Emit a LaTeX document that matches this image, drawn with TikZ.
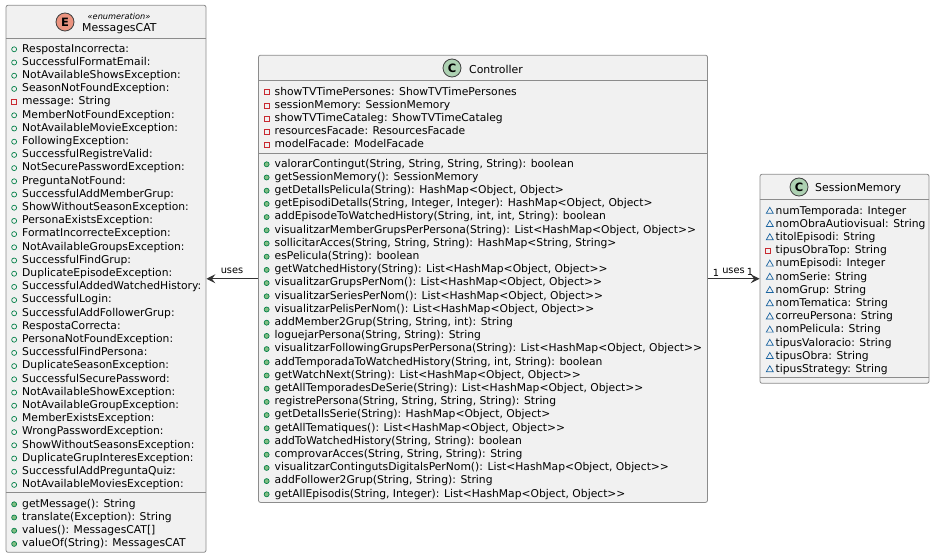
\documentclass[tikz,border=0pt]{standalone}
\usepackage{fontspec}
\setmainfont{DejaVu Sans}[Ligatures=TeXOff]
\usetikzlibrary{arrows.meta,shapes.geometric}
\pgfdeclarelayer{edgelayer}
\pgfdeclarelayer{nodelayer}
\pgfsetlayers{edgelayer,main,nodelayer}
\definecolor{boxfill}{HTML}{F1F1F1}
\definecolor{boxline}{HTML}{8C8C8C}
\definecolor{privline}{HTML}{C82930}
\definecolor{publine}{HTML}{038048}
\definecolor{pubfill}{HTML}{84BE84}
\definecolor{packline}{HTML}{1963A0}
\definecolor{enumfill}{HTML}{EB937F}
\definecolor{classfill}{HTML}{ADD1B2}
\tikzstyle{classbox}=[rectangle, rounded corners=2, fill=boxfill, draw=boxline, line width=0.8, inner sep=0]
\tikzstyle{divider}=[draw=boxline, line width=0.8]
\tikzstyle{uses}=[-{Stealth[length=9,width=9,inset=3.5]}, draw=black!80, line width=1]
\tikzstyle{smalltext}=[font=\fontsize{9.8}{11}\selectfont, inner sep=0, text=black, yshift=-1]
\tikzstyle{title}=[font=\fontsize{10.9}{12}\selectfont, inner sep=0, anchor=west, text=black, yshift=-1]
\tikzstyle{stereo}=[font=\fontsize{8.2}{9}\itshape\selectfont, inner sep=0, text=black, yshift=-0.5]
\tikzstyle{badge}=[circle, draw=black!75, line width=0.8, minimum size=18, inner sep=0, font=\fontsize{11.5}{12}\bfseries\selectfont]
\tikzstyle{row}=[font=\fontsize{10.75}{12}\selectfont, anchor=west, inner sep=0, text height=8, text depth=2.5, text=black, yshift=-1.3]
\tikzstyle{pubmark}=[circle, draw=publine, line width=0.7, minimum size=5, inner sep=0]
\tikzstyle{privmark}=[rectangle, draw=privline, line width=0.7, minimum size=5, inner sep=0]
\tikzstyle{packmark}=[regular polygon, regular polygon sides=3, draw=packline, line width=0.7, minimum size=8, inner sep=0]
\tikzstyle{pubfield}=[row, label={[pubmark, label distance=5]left:{}}]
\tikzstyle{pubmethod}=[row, label={[pubmark, fill=pubfill, label distance=5]left:{}}]
\tikzstyle{privfield}=[row, label={[privmark, label distance=5]left:{}}]
\tikzstyle{packfield}=[row, label={[packmark, label distance=3]left:{}}]
\begin{document}
\begin{tikzpicture}[x=1pt, y=-1pt]
    \useasboundingbox (0, 0) rectangle (934, 556);
    \begin{pgfonlayer}{edgelayer}
        \node [style=classbox, minimum width=200, minimum height=547] (msgs) at (106, 278.8) {};
        \node [style=classbox, minimum width=449, minimum height=447.2] (ctrl) at (483, 278.8) {};
        \node [style=classbox, minimum width=169, minimum height=209] (sess) at (844.5, 278.8) {};
    \end{pgfonlayer}
    \begin{pgfonlayer}{nodelayer}
        % enumeration
        \node [style=badge, fill=enumfill] (msgsE) at (65, 22) {E};
        \node [style=stereo] (msgsStereo) at (119, 16) {«enumeration»};
        \node [style=title] (msgsTitle) at (82, 28) {MessagesCAT};
        \node [style=pubfield] (m1) at (22, 48) {RespostaIncorrecta:};
        \node [style=pubfield] (m2) at (22, 61.2) {SuccessfulFormatEmail:};
        \node [style=pubfield] (m3) at (22, 74.4) {NotAvailableShowsException:};
        \node [style=pubfield] (m4) at (22, 87.6) {SeasonNotFoundException:};
        \node [style=privfield] (m5) at (22, 100.8) {message: String};
        \node [style=pubfield] (m6) at (22, 114) {MemberNotFoundException:};
        \node [style=pubfield] (m7) at (22, 127.2) {NotAvailableMovieException:};
        \node [style=pubfield] (m8) at (22, 140.4) {FollowingException:};
        \node [style=pubfield] (m9) at (22, 153.6) {SuccessfulRegistreValid:};
        \node [style=pubfield] (m10) at (22, 166.8) {NotSecurePasswordException:};
        \node [style=pubfield] (m11) at (22, 180) {PreguntaNotFound:};
        \node [style=pubfield] (m12) at (22, 193.2) {SuccessfulAddMemberGrup:};
        \node [style=pubfield] (m13) at (22, 206.4) {ShowWithoutSeasonException:};
        \node [style=pubfield] (m14) at (22, 219.6) {PersonaExistsException:};
        \node [style=pubfield] (m15) at (22, 232.8) {FormatIncorrecteException:};
        \node [style=pubfield] (m16) at (22, 246) {NotAvailableGroupsException:};
        \node [style=pubfield] (m17) at (22, 259.2) {SuccessfulFindGrup:};
        \node [style=pubfield] (m18) at (22, 272.4) {DuplicateEpisodeException:};
        \node [style=pubfield] (m19) at (22, 285.6) {SuccessfulAddedWatchedHistory:};
        \node [style=pubfield] (m20) at (22, 298.8) {SuccessfulLogin:};
        \node [style=pubfield] (m21) at (22, 312) {SuccessfulAddFollowerGrup:};
        \node [style=pubfield] (m22) at (22, 325.2) {RespostaCorrecta:};
        \node [style=pubfield] (m23) at (22, 338.4) {PersonaNotFoundException:};
        \node [style=pubfield] (m24) at (22, 351.6) {SuccessfulFindPersona:};
        \node [style=pubfield] (m25) at (22, 364.8) {DuplicateSeasonException:};
        \node [style=pubfield] (m26) at (22, 378) {SuccessfulSecurePassword:};
        \node [style=pubfield] (m27) at (22, 391.2) {NotAvailableShowException:};
        \node [style=pubfield] (m28) at (22, 404.4) {NotAvailableGroupException:};
        \node [style=pubfield] (m29) at (22, 417.6) {MemberExistsException:};
        \node [style=pubfield] (m30) at (22, 430.8) {WrongPasswordException:};
        \node [style=pubfield] (m31) at (22, 444) {ShowWithoutSeasonsException:};
        \node [style=pubfield] (m32) at (22, 457.2) {DuplicateGrupInteresException:};
        \node [style=pubfield] (m33) at (22, 470.4) {SuccessfulAddPreguntaQuiz:};
        \node [style=pubfield] (m34) at (22, 483.6) {NotAvailableMoviesException:};
        \node [style=pubmethod] (mm1) at (22, 503) {getMessage(): String};
        \node [style=pubmethod] (mm2) at (22, 516.2) {translate(Exception): String};
        \node [style=pubmethod] (mm3) at (22, 529.4) {values(): MessagesCAT[]};
        \node [style=pubmethod] (mm4) at (22, 542.6) {valueOf(String): MessagesCAT};

        % controller
        \node [style=badge, fill=classfill] (ctrlC) at (452, 68) {C};
        \node [style=title] (ctrlTitle) at (469, 68) {Controller};
        \node [style=privfield] (c1) at (274.5, 91) {showTVTimePersones: ShowTVTimePersones};
        \node [style=privfield] (c2) at (274.5, 104.2) {sessionMemory: SessionMemory};
        \node [style=privfield] (c3) at (274.5, 117.4) {showTVTimeCataleg: ShowTVTimeCataleg};
        \node [style=privfield] (c4) at (274.5, 130.6) {resourcesFacade: ResourcesFacade};
        \node [style=privfield] (c5) at (274.5, 143.8) {modelFacade: ModelFacade};
        \node [style=pubmethod] (cm1) at (274.5, 163) {valorarContingut(String, String, String, String): boolean};
        \node [style=pubmethod] (cm2) at (274.5, 176.2) {getSessionMemory(): SessionMemory};
        \node [style=pubmethod] (cm3) at (274.5, 189.4) {getDetallsPelicula(String): HashMap<Object, Object>};
        \node [style=pubmethod] (cm4) at (274.5, 202.6) {getEpisodiDetalls(String, Integer, Integer): HashMap<Object, Object>};
        \node [style=pubmethod] (cm5) at (274.5, 215.8) {addEpisodeToWatchedHistory(String, int, int, String): boolean};
        \node [style=pubmethod] (cm6) at (274.5, 229) {visualitzarMemberGrupsPerPersona(String): List<HashMap<Object, Object>>};
        \node [style=pubmethod] (cm7) at (274.5, 242.2) {sollicitarAcces(String, String, String): HashMap<String, String>};
        \node [style=pubmethod] (cm8) at (274.5, 255.4) {esPelicula(String): boolean};
        \node [style=pubmethod] (cm9) at (274.5, 268.6) {getWatchedHistory(String): List<HashMap<Object, Object>>};
        \node [style=pubmethod] (cm10) at (274.5, 281.8) {visualitzarGrupsPerNom(): List<HashMap<Object, Object>>};
        \node [style=pubmethod] (cm11) at (274.5, 295) {visualitzarSeriesPerNom(): List<HashMap<Object, Object>>};
        \node [style=pubmethod] (cm12) at (274.5, 308.2) {visualitzarPelisPerNom(): List<HashMap<Object, Object>>};
        \node [style=pubmethod] (cm13) at (274.5, 321.4) {addMember2Grup(String, String, int): String};
        \node [style=pubmethod] (cm14) at (274.5, 334.6) {loguejarPersona(String, String): String};
        \node [style=pubmethod] (cm15) at (274.5, 347.8) {visualitzarFollowingGrupsPerPersona(String): List<HashMap<Object, Object>>};
        \node [style=pubmethod] (cm16) at (274.5, 361) {addTemporadaToWatchedHistory(String, int, String): boolean};
        \node [style=pubmethod] (cm17) at (274.5, 374.2) {getWatchNext(String): List<HashMap<Object, Object>>};
        \node [style=pubmethod] (cm18) at (274.5, 387.4) {getAllTemporadesDeSerie(String): List<HashMap<Object, Object>>};
        \node [style=pubmethod] (cm19) at (274.5, 400.6) {registrePersona(String, String, String, String): String};
        \node [style=pubmethod] (cm20) at (274.5, 413.8) {getDetallsSerie(String): HashMap<Object, Object>};
        \node [style=pubmethod] (cm21) at (274.5, 427) {getAllTematiques(): List<HashMap<Object, Object>>};
        \node [style=pubmethod] (cm22) at (274.5, 440.2) {addToWatchedHistory(String, String): boolean};
        \node [style=pubmethod] (cm23) at (274.5, 453.4) {comprovarAcces(String, String, String): String};
        \node [style=pubmethod] (cm24) at (274.5, 466.6) {visualitzarContingutsDigitalsPerNom(): List<HashMap<Object, Object>>};
        \node [style=pubmethod] (cm25) at (274.5, 479.8) {addFollower2Grup(String, String): String};
        \node [style=pubmethod] (cm26) at (274.5, 493) {getAllEpisodis(String, Integer): List<HashMap<Object, Object>>};

        % session memory
        \node [style=badge, fill=classfill] (sessC) at (799, 187) {C};
        \node [style=title] (sessTitle) at (815, 187) {SessionMemory};
        \node [style=packfield] (s1) at (775.5, 210) {numTemporada: Integer};
        \node [style=packfield] (s2) at (775.5, 223.2) {nomObraAutiovisual: String};
        \node [style=packfield] (s3) at (775.5, 236.4) {titolEpisodi: String};
        \node [style=privfield] (s4) at (775.5, 249.6) {tipusObraTop: String};
        \node [style=packfield] (s5) at (775.5, 262.8) {numEpisodi: Integer};
        \node [style=packfield] (s6) at (775.5, 276) {nomSerie: String};
        \node [style=packfield] (s7) at (775.5, 289.2) {nomGrup: String};
        \node [style=packfield] (s8) at (775.5, 302.4) {nomTematica: String};
        \node [style=packfield] (s9) at (775.5, 315.6) {correuPersona: String};
        \node [style=packfield] (s10) at (775.5, 328.8) {nomPelicula: String};
        \node [style=packfield] (s11) at (775.5, 342) {tipusValoracio: String};
        \node [style=packfield] (s12) at (775.5, 355.2) {tipusObra: String};
        \node [style=packfield] (s13) at (775.5, 368.4) {tipusStrategy: String};

        \node [style=smalltext] (usesL) at (232, 270) {uses};
        \node [style=smalltext] (usesR) at (733.5, 270) {uses};
        \node [style=smalltext] (oneCtrl) at (716, 272) {1};
        \node [style=smalltext] (oneSess) at (750, 271) {1};
    \end{pgfonlayer}
    \draw [style=divider] (msgs.west |- 0, 38) -- (msgs.east |- 0, 38);
    \draw [style=divider] (msgs.west |- 0, 492.5) -- (msgs.east |- 0, 492.5);
    \draw [style=divider] (ctrl.west |- 0, 80.5) -- (ctrl.east |- 0, 80.5);
    \draw [style=divider] (ctrl.west |- 0, 153) -- (ctrl.east |- 0, 153);
    \draw [style=divider] (sess.west |- 0, 199) -- (sess.east |- 0, 199);
    \draw [style=divider] (sess.west |- 0, 377.5) -- (sess.east |- 0, 377.5);

    \draw [style=uses] (ctrl.west) to (msgs.east);
    \draw [style=uses] (ctrl.east) to (sess.west);
\end{tikzpicture}
\end{document}
